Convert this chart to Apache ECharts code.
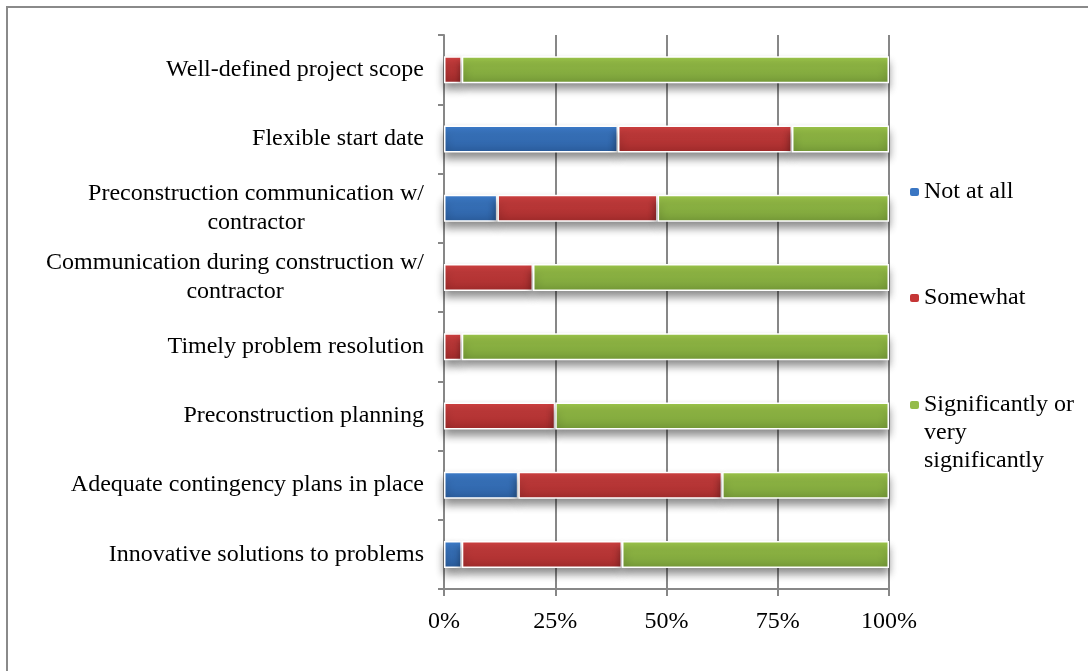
<!DOCTYPE html>
<html>
<head>
<meta charset="utf-8">
<script src="https://cdn.jsdelivr.net/npm/echarts@6/dist/echarts.min.js"></script>
<style>
  html, body { margin: 0; padding: 0; background: #fff; }
  #chart { width: 1088px; height: 671px; }
</style>
</head>
<body>
<div id="chart"></div>
<script>
// Survey factors (top to bottom); "\n" marks where a long label wraps
const categories = [
  'Well-defined project scope',
  'Flexible start date',
  'Preconstruction communication w/\ncontractor',
  'Communication during construction w/\ncontractor',
  'Timely problem resolution',
  'Preconstruction planning',
  'Adequate contingency plans in place',
  'Innovative solutions to problems'
];

// Share of responses (%) per factor
const notAtAll    = [0, 39.1, 12, 0, 0, 0, 16.7, 4];
const somewhat    = [4, 39.1, 36, 20, 4, 25, 45.8, 36];
const significant = [96, 21.8, 52, 80, 96, 75, 37.5, 60];

const xTicks = [0, 25, 50, 75, 100];

const seriesNames = ['Not at all', 'Somewhat', 'Significantly or very significantly'];

const FONT = 'Liberation Serif, Times New Roman, serif';
const GRAY = '#878787';

function grad(top, bottom) {
  return new echarts.graphic.LinearGradient(0, 0, 0, 1, [
    { offset: 0, color: top },
    { offset: 1, color: bottom }
  ]);
}

const palette = [
  { fill: grad('#3f80d0', '#2b5d9d'), flat: '#3a76c3' },
  { fill: grad('#d44242', '#a02b2b'), flat: '#c53636' },
  { fill: grad('#a0ca4c', '#759a38'), flat: '#94bc4a' }
];

const values = [notAtAll, somewhat, significant];

const series = values.map((arr, i) => ({
  name: seriesNames[i],
  type: 'bar',
  stack: 'total',
  barWidth: 27,
  data: arr.map(v => (v === 0 ? null : v)),
  itemStyle: {
    color: palette[i].fill,
    borderColor: '#ffffff',
    borderWidth: 1.5,
    shadowColor: 'rgba(0,0,0,0.45)',
    shadowBlur: 8,
    shadowOffsetY: 6
  },
  emphasis: { disabled: true }
}));

function legendFor(i, top, formatter) {
  const l = {
    orient: 'vertical',
    left: 910,
    top: top,
    padding: 0,
    itemWidth: 9,
    itemHeight: 8,
    itemGap: 5,
    selectedMode: false,
    data: [{
      name: seriesNames[i],
      itemStyle: { color: palette[i].flat, borderWidth: 0, shadowBlur: 0, shadowOffsetY: 0 }
    }],
    textStyle: { fontFamily: FONT, fontSize: 24, color: '#000', lineHeight: 28 }
  };
  if (formatter) l.formatter = formatter;
  return l;
}

const option = {
  animation: false,
  backgroundColor: '#ffffff',
  graphic: [{
    type: 'rect',
    shape: { x: 7, y: 7, width: 1100, height: 700 },
    style: { fill: 'none', stroke: '#8a8a8a', lineWidth: 2 },
    silent: true,
    z: 100
  }],
  grid: { left: 444, right: 199, top: 35, bottom: 82, containLabel: false },
  legend: [
    legendFor(0, 178),
    legendFor(1, 284),
    // leading blank lines keep the icon level with the first text line
    legendFor(2, 335, () => '\n\nSignificantly or\nvery\nsignificantly')
  ],
  xAxis: {
    type: 'value',
    min: xTicks[0],
    max: xTicks[xTicks.length - 1],
    interval: xTicks[1] - xTicks[0],
    axisLine: { show: true, lineStyle: { color: GRAY, width: 2 } },
    axisTick: { show: true, length: 7, lineStyle: { color: GRAY, width: 2 } },
    splitLine: { show: true, lineStyle: { color: GRAY, width: 2 } },
    axisLabel: {
      formatter: '{value}%',
      fontFamily: FONT,
      fontSize: 24,
      color: '#000',
      margin: 21
    }
  },
  yAxis: {
    type: 'category',
    inverse: true,
    data: categories,
    axisLine: { show: true, lineStyle: { color: GRAY, width: 2 } },
    axisTick: { show: true, length: 6, lineStyle: { color: GRAY, width: 2 } },
    splitLine: { show: false },
    axisLabel: {
      margin: 20,
      color: '#000',
      fontFamily: FONT,
      fontSize: 24,
      lineHeight: 29,
      formatter: v => v.split('\n').map(s => '{c|' + s + '}').join('\n'),
      rich: {
        c: { align: 'center', fontFamily: FONT, fontSize: 24, lineHeight: 29, color: '#000' }
      }
    }
  },
  series: series
};

const chart = echarts.init(document.getElementById('chart'), null, { renderer: 'canvas' });
chart.setOption(option);
</script>
</body>
</html>
